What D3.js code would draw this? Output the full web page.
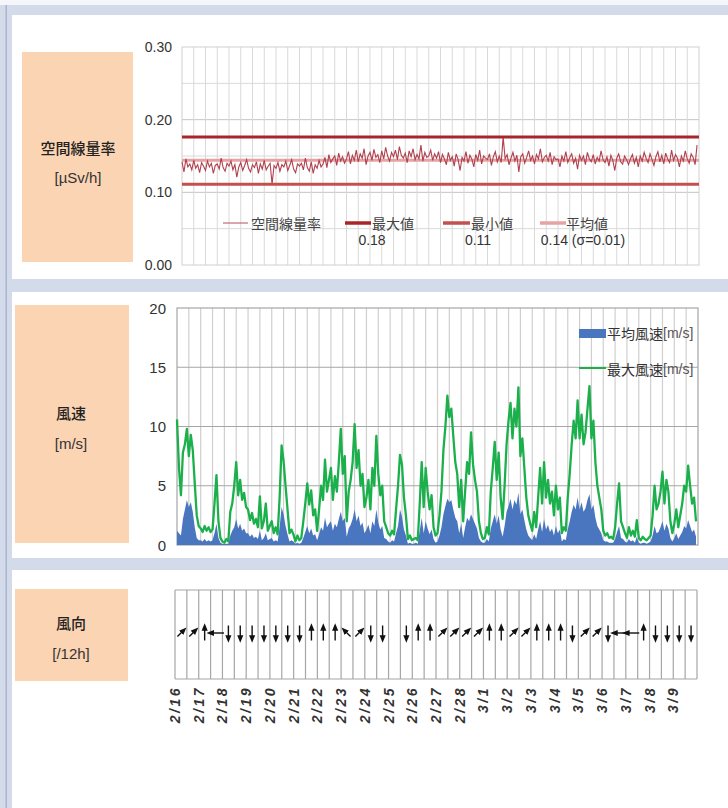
<!DOCTYPE html>
<html><head><meta charset="utf-8">
<script src="https://cdn.jsdelivr.net/npm/d3@7"></script>
<style>html,body{margin:0;padding:0;background:#fff;}svg{display:block;}</style>
</head><body>
<svg id="c" width="728" height="808"></svg>
<script>
// ---------------- DATA ----------------
const dateLabels = ["2/16","2/17","2/18","2/19","2/20","2/21","2/22","2/23","2/24","2/25","2/26","2/27","2/28","3/1","3/2","3/3","3/4","3/5","3/6","3/7","3/8","3/9"];
const doseTicks = [0, 0.10, 0.20, 0.30];
const windTicks = [0, 5, 10, 15, 20];
// dose rate [µSv/h], every 2 h (6 per 12-h cell)
const doseRate = [
.142,.128,.146,.135,.139,.131, .144,.133,.138,.127,.141,.136, .130,.143,.135,.140,.126,.137, .139,.132,.147,.134,.129,.140,
.136,.143,.131,.138,.121,.135, .141,.130,.137,.145,.133,.128, .138,.134,.142,.126,.139,.132, .144,.131,.136,.140,.111,.137,
.133,.141,.129,.138,.135,.143, .130,.137,.145,.132,.127,.139, .136,.140,.131,.147,.134,.129, .142,.126,.138,.133,.144,.135,
.139,.148,.134,.152,.141,.146, .150,.137,.154,.143,.149,.140, .146,.156,.139,.151,.144,.158, .142,.153,.147,.160,.138,.150,
.155,.144,.159,.148,.152,.141, .157,.146,.162,.150,.143,.155, .149,.158,.145,.163,.151,.147, .154,.141,.157,.149,.160,.145,
.152,.146,.165,.143,.155,.148, .150,.158,.144,.153,.147,.156, .141,.152,.146,.138,.155,.144, .149,.136,.153,.145,.130,.148,
.143,.156,.140,.151,.146,.135, .152,.144,.158,.139,.150,.147, .145,.153,.137,.149,.156,.142, .150,.141,.176,.146,.152,.138,
.147,.155,.143,.151,.128,.149, .153,.140,.148,.157,.144,.150, .139,.152,.146,.160,.142,.148, .151,.143,.155,.138,.149,.145,
.146,.135,.150,.143,.156,.141, .148,.153,.140,.147,.132,.151, .144,.150,.138,.155,.146,.142, .152,.139,.148,.143,.157,.145,
.141,.149,.136,.151,.144,.130, .147,.153,.142,.139,.150,.145, .138,.146,.152,.140,.148,.135, .150,.143,.155,.147,.141,.153,
.145,.137,.149,.156,.142,.151, .139,.154,.146,.141,.158,.144, .152,.147,.135,.150,.143,.157, .146,.140,.153,.148,.138,.165
];
const doseStatLabels = ["0.18", "0.11", "0.14 (σ=0.01)"];
// maximum wind speed [m/s], every 2 h
const windMax = [
10.6,6.5,4.2,7.8,8.5,9.8, 7.5,9.3,8.0,5.2,2.5,1.6, 1.4,1.1,1.6,1.2,1.5,1.1, 1.3,3.5,5.9,2.0,0.6,0.3,
0.2,0.5,0.3,2.8,3.5,5.0, 7.0,4.2,5.5,3.8,4.4,3.2, 3.0,2.1,2.7,1.8,2.2,1.5, 4.1,1.4,2.0,3.5,1.2,1.6,
2.0,1.0,1.5,0.9,4.0,8.4, 7.1,5.0,3.0,1.0,1.3,0.9, 0.3,0.8,0.4,0.6,2.0,3.5, 5.2,3.4,4.6,2.5,3.0,1.2,
3.0,5.0,3.8,7.2,4.5,5.5, 6.5,3.8,5.8,4.5,7.0,9.8, 6.0,7.5,2.0,4.5,5.5,7.0, 10.2,6.5,8.0,5.0,6.0,3.2,
4.0,5.5,3.0,6.5,5.0,9.2, 6.0,4.2,5.0,2.0,1.5,1.0, 0.8,1.2,0.9,3.0,5.0,7.6, 6.8,4.0,2.5,0.5,0.8,0.4,
0.5,0.6,0.4,3.5,7.0,3.2, 6.5,4.5,3.0,4.2,1.5,0.8, 1.0,2.5,4.5,8.0,10.0,12.6, 10.8,11.5,9.2,7.0,6.0,3.2,
5.5,2.0,4.5,7.0,6.0,9.5, 6.8,5.5,4.5,2.0,1.0,0.5, 0.6,1.5,0.9,4.5,6.5,8.7, 5.5,7.8,4.0,2.2,5.0,8.5,
10.5,12.0,9.0,11.5,10.0,13.3, 7.5,9.0,6.5,4.0,2.5,1.8, 1.2,2.8,1.5,4.0,6.5,3.5, 7.0,4.0,5.5,3.5,4.5,2.5,
5.0,3.0,4.0,1.0,1.5,1.2, 4.0,6.0,8.5,10.5,9.0,12.2, 9.0,11.0,8.5,9.5,11.5,13.4, 9.0,10.5,7.0,5.0,4.0,3.0,
1.2,0.8,1.0,0.6,0.7,0.5, 1.5,3.5,5.2,2.0,1.5,1.0, 0.6,1.5,0.8,1.2,0.7,2.1, 0.6,0.4,0.7,0.5,0.4,0.6,
0.8,2.5,5.0,3.0,3.5,4.5, 6.2,3.5,5.5,4.5,2.0,1.0, 1.8,3.0,1.5,2.5,3.5,5.0, 4.5,6.7,5.0,3.5,4.0,2.0
];
// average wind speed [m/s], every 2 h
const windAvg = [
1.2,1.0,0.8,2.2,3.0,3.8, 3.2,3.6,2.8,1.5,0.6,0.4, 0.4,0.3,0.5,0.3,0.4,0.3, 0.4,1.0,1.8,0.6,0.2,0.1,
0.1,0.1,0.1,0.8,1.2,1.5, 2.2,1.4,1.8,1.2,1.4,1.0, 1.0,0.7,0.9,0.6,0.7,0.5, 1.2,0.4,0.6,1.0,0.4,0.5,
0.6,0.3,0.4,0.3,1.5,3.2, 2.6,1.6,0.9,0.3,0.4,0.3, 0.1,0.2,0.1,0.2,0.6,1.1, 1.6,1.0,1.4,0.8,0.9,0.4,
0.9,1.5,1.2,2.3,1.5,1.8, 2.0,1.2,1.8,1.5,2.2,2.8, 2.0,2.3,0.7,1.4,1.7,2.2, 3.0,2.0,2.5,1.6,1.9,1.0,
1.3,1.7,1.0,2.0,1.6,3.0, 1.9,1.3,1.6,0.6,0.5,0.3, 0.2,0.4,0.3,1.0,1.6,3.0, 2.4,1.3,0.8,0.1,0.2,0.1,
0.1,0.2,0.1,1.2,2.3,1.0, 2.0,1.4,0.9,1.3,0.5,0.2, 0.3,0.8,1.5,2.6,3.3,3.9, 3.6,3.8,3.0,2.3,2.0,1.0,
1.8,0.6,1.5,2.3,2.0,2.6, 2.2,1.8,1.4,0.6,0.3,0.2, 0.2,0.5,0.3,1.4,2.0,2.6, 1.8,2.5,1.3,0.7,1.6,2.8,
3.3,3.9,3.0,3.8,3.4,4.4, 2.6,3.0,2.1,1.3,0.8,0.6, 0.4,0.9,0.5,1.3,2.0,1.1, 2.2,1.3,1.7,1.1,1.4,0.8,
1.6,1.0,1.3,0.3,0.5,0.4, 1.3,2.0,2.8,3.4,3.0,4.0, 3.0,3.6,2.8,3.1,3.8,4.3, 3.0,3.4,2.3,1.6,1.3,1.0,
0.4,0.3,0.3,0.2,0.2,0.2, 0.5,1.1,1.6,0.6,0.5,0.3, 0.2,0.5,0.3,0.4,0.2,0.7, 0.2,0.1,0.2,0.2,0.1,0.2,
0.3,0.8,1.6,1.0,1.1,1.5, 2.0,1.2,1.8,1.4,0.6,0.3, 0.6,1.0,0.5,0.8,1.1,1.6, 1.4,2.1,1.6,1.1,1.3,0.7
];
// wind direction per 12 h (direction the arrow points)
const windDir = ["NE","NE","N","W","S","S","S","S","S","S","S","N","N","N","NW","NE","S","S",null,"S","N","N",
                 "NE","NE","NE","NE","N","N","NE","NE","N","N","N","S","NE","NE","S","W","W","N","S","S","S","S"];
const dirAngle = {N:0, NE:45, E:90, SE:135, S:180, SW:225, W:270, NW:315};
const panelTitles = [["空間線量率","[µSv/h]"],["風速","[m/s]"],["風向","[/12h]"]];
const doseLegend = ["空間線量率","最大値","最小値","平均値"];
const windLegend = ["平均風速","最大風速"];
const windUnit = "[m/s]";

// ---------------- DRAW ----------------
const svg = d3.select("#c");
const fNum = "'Liberation Sans Narrow','Arial Narrow','Liberation Sans',Arial,sans-serif";
const fCJK = "'Noto Sans CJK JP','Noto Sans CJK SC',sans-serif";
const nDays = dateLabels.length;
const nCells = nDays * 2;
const stepDays = 2 / 24;

// frame
svg.append("rect").attr("width",728).attr("height",808).attr("fill","#d3dae9");
svg.append("rect").attr("width",728).attr("height",5).attr("fill","#f4f6fa");
svg.append("rect").attr("x",5.5).attr("y",5).attr("width",1.5).attr("height",803).attr("fill","#aab5d0");
const panels = [[15,279],[292,558],[570,808]];
panels.forEach(p => svg.append("rect").attr("x",12).attr("y",p[0]).attr("width",716).attr("height",p[1]-p[0]).attr("fill","#fff"));

// orange title boxes
const boxes = [{x:22,y:52,w:111,h:210,t1:147,t2:177,cx:78},{x:15,y:305,w:114,h:238,t1:412,t2:443,cx:71},{x:15,y:589,w:113,h:92,t1:622,t2:653,cx:71}];
boxes.forEach((b,i) => {
  svg.append("rect").attr("x",b.x).attr("y",b.y).attr("width",b.w).attr("height",b.h).attr("fill","#fbd4b4");
  svg.append("text").attr("x",b.cx).attr("y",b.t1).attr("text-anchor","middle").attr("dominant-baseline","central")
    .attr("font-family",fCJK).attr("font-size",15).attr("font-weight",500).attr("fill","#222").text(panelTitles[i][0]);
  svg.append("text").attr("x",b.cx).attr("y",b.t2).attr("text-anchor","middle").attr("dominant-baseline","central")
    .attr("font-family",fNum).attr("font-size",15).attr("fill","#333").text(panelTitles[i][1]);
});

// ---------- Panel 1: dose rate ----------
{
  const x = d3.scaleLinear().domain([0,nDays]).range([182,699]);
  const y = d3.scaleLinear().domain([0,0.30]).range([265,47]);
  const g = svg.append("g");
  d3.range(0.05,0.30,0.05).forEach(v => {
    const major = Math.abs((v*10) - Math.round(v*10)) < 1e-6;
    g.append("line").attr("x1",x(0)).attr("x2",x(nDays)).attr("y1",y(v)).attr("y2",y(v))
      .attr("stroke", major ? "#c4c4c4" : "#d9d9d9").attr("stroke-width",1);
  });
  d3.range(1,nCells).forEach(i => g.append("line").attr("x1",x(i/2)).attr("x2",x(i/2)).attr("y1",y(0.30)).attr("y2",y(0))
      .attr("stroke","#d9d9d9").attr("stroke-width",1));
  g.append("rect").attr("x",x(0)).attr("y",y(0.30)).attr("width",x(nDays)-x(0)).attr("height",y(0)-y(0.30))
    .attr("fill","none").attr("stroke","#d0d0d0");
  doseTicks.forEach(v => g.append("text").attr("x",172).attr("y",y(v)).attr("text-anchor","end").attr("dominant-baseline","central")
    .attr("font-family",fNum).attr("font-size",14).attr("fill","#333").text(d3.format(".2f")(v)));
  const mx = d3.max(doseRate), mn = d3.min(doseRate), av = d3.mean(doseRate);
  g.append("line").attr("x1",x(0)).attr("x2",x(nDays)).attr("y1",y(av)).attr("y2",y(av)).attr("stroke","#e6a3a5").attr("stroke-width",3);
  const line = d3.line().x((d,i)=>x(i*stepDays)).y(d=>y(d));
  g.append("path").datum(doseRate).attr("d",line).attr("fill","none").attr("stroke","#b0404e").attr("stroke-width",1.1);
  g.append("line").attr("x1",x(0)).attr("x2",x(nDays)).attr("y1",y(mx)).attr("y2",y(mx)).attr("stroke","#a8262a").attr("stroke-width",3);
  g.append("line").attr("x1",x(0)).attr("x2",x(nDays)).attr("y1",y(mn)).attr("y2",y(mn)).attr("stroke","#c2504f").attr("stroke-width",3);
  const leg = [
    {x1:223,x2:248,c:"#b0505c",w:1,tx:251,sub:null},
    {x1:345,x2:371,c:"#a8262a",w:3.5,tx:372,sub:{x:372,t:doseStatLabels[0]}},
    {x1:443,x2:470,c:"#c2504f",w:3.5,tx:471,sub:{x:478,t:doseStatLabels[1]}},
    {x1:540,x2:566,c:"#e6a3a5",w:3.5,tx:566,sub:{x:583,t:doseStatLabels[2]}}
  ];
  leg.forEach((l,i) => {
    g.append("line").attr("x1",l.x1).attr("x2",l.x2).attr("y1",223).attr("y2",223).attr("stroke",l.c).attr("stroke-width",l.w);
    g.append("text").attr("x",l.tx).attr("y",223).attr("dominant-baseline","central").attr("font-family",fCJK)
      .attr("font-size",14).attr("fill","#444").text(doseLegend[i]);
    if (l.sub) g.append("text").attr("x",l.sub.x).attr("y",240).attr("text-anchor","middle").attr("dominant-baseline","central")
      .attr("font-family",fNum).attr("font-size",14).attr("fill","#333").text(l.sub.t);
  });
}

// ---------- Panel 2: wind speed ----------
{
  const x = d3.scaleLinear().domain([0,nDays]).range([177,698]);
  const y = d3.scaleLinear().domain([0,20]).range([545,308]);
  const g = svg.append("g");
  d3.range(1,nCells).forEach(i => g.append("line").attr("x1",x(i/2)).attr("x2",x(i/2)).attr("y1",y(20)).attr("y2",y(0))
      .attr("stroke","#cfcfcf").attr("stroke-width",1.2));
  windTicks.slice(1,-1).forEach(v => g.append("line").attr("x1",x(0)).attr("x2",x(nDays)).attr("y1",y(v)).attr("y2",y(v))
      .attr("stroke","#a6a6a6").attr("stroke-width",1.2));
  g.append("rect").attr("x",x(0)).attr("y",y(20)).attr("width",x(nDays)-x(0)).attr("height",y(0)-y(20))
    .attr("fill","none").attr("stroke","#a6a6a6").attr("stroke-width",1.2);
  windTicks.forEach(v => g.append("text").attr("x",166).attr("y",y(v)).attr("text-anchor","end").attr("dominant-baseline","central")
    .attr("font-family",fNum).attr("font-size",15).attr("fill","#333").text(v));
  const area = d3.area().x((d,i)=>x(i*stepDays)).y0(y(0)).y1(d=>y(d));
  g.append("path").datum(windAvg).attr("d",area).attr("fill","#4a76c0");
  const line = d3.line().x((d,i)=>x(i*stepDays)).y(d=>y(d));
  g.append("path").datum(windMax).attr("d",line).attr("fill","none").attr("stroke","#1cb04c").attr("stroke-width",2.3)
    .attr("stroke-linejoin","round");
  g.append("rect").attr("x",579).attr("y",329).attr("width",27).attr("height",9).attr("fill","#4a76c0");
  g.append("line").attr("x1",579).attr("x2",606).attr("y1",368).attr("y2",368).attr("stroke","#1cb04c").attr("stroke-width",2);
  [[333,windLegend[0]],[369,windLegend[1]]].forEach(([yy,t]) => {
    const tt = g.append("text").attr("x",607).attr("y",yy).attr("dominant-baseline","central").attr("font-size",14).attr("fill","#333");
    tt.append("tspan").attr("font-family",fCJK).text(t);
    tt.append("tspan").attr("font-family",fNum).attr("fill","#555").text(windUnit);
  });
}

// ---------- Panel 3: wind direction ----------
{
  const x = d3.scaleLinear().domain([0,nCells]).range([175,697]);
  const yT = 590, yB = 679, yC = 633;
  const g = svg.append("g");
  g.append("defs").append("marker").attr("id","ah").attr("viewBox","0 0 10 10").attr("refX",5).attr("refY",5)
    .attr("markerWidth",5.5).attr("markerHeight",5.5).attr("orient","auto")
    .append("path").attr("d","M0,1 L10,5 L0,9 Z").attr("fill","#111");
  d3.range(0,nCells+1).forEach(i => g.append("line").attr("x1",x(i)).attr("x2",x(i)).attr("y1",yT).attr("y2",yB)
    .attr("stroke","#a6a6a6").attr("stroke-width",1.2));
  g.append("line").attr("x1",x(0)).attr("x2",x(nCells)).attr("y1",yT).attr("y2",yT).attr("stroke","#a6a6a6").attr("stroke-width",1.2);
  g.append("line").attr("x1",x(0)).attr("x2",x(nCells)).attr("y1",yB).attr("y2",yB).attr("stroke","#a6a6a6").attr("stroke-width",1.2);
  windDir.forEach((d,i) => {
    if (!d) return;
    const a = dirAngle[d] * Math.PI/180;
    const diag = dirAngle[d] % 90 !== 0;
    const L = diag ? 5 : 7.5;
    const cx = x(i+0.5), dx = Math.sin(a)*L, dy = -Math.cos(a)*L;
    g.append("line").attr("x1",cx-dx).attr("y1",yC-dy).attr("x2",cx+dx-dx*0.2).attr("y2",yC+dy-dy*0.2)
      .attr("stroke","#111").attr("stroke-width",1.4).attr("marker-end","url(#ah)");
  });
  dateLabels.forEach((t,i) => {
    g.append("text").attr("transform",`translate(${x(i*2)+5},686) rotate(-90)`).attr("text-anchor","end")
      .attr("font-family",fNum).attr("font-size",14).attr("font-weight","bold").attr("font-style","italic")
      .attr("letter-spacing",2.5).attr("fill","#333").text(t);
  });
}
</script>
</body></html>
